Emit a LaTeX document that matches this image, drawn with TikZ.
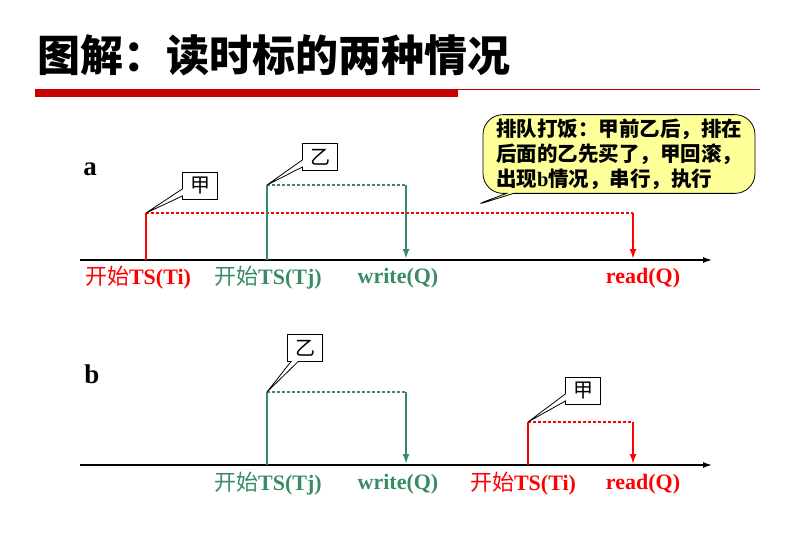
\documentclass[tikz,border=0pt]{standalone}
\usepackage{fontspec}
\setmainfont{Liberation Serif}
\newfontfamily\cjk{Noto Sans CJK SC}
\usetikzlibrary{arrows.meta}
\usetikzlibrary{shapes.callouts}
\definecolor{tgreen}{RGB}{56,140,100}
\definecolor{tred}{RGB}{255,0,0}
\definecolor{bar}{RGB}{200,0,0}
\definecolor{note}{RGB}{255,255,153}
\newcommand{\kaishi}[1]{{\cjk\mdseries 开始}\textbf{#1}}
\begin{document}
\begin{tikzpicture}[x=1pt,y=-1pt,
    axis/.style={-{Latex[length=9pt,width=6pt]}, black, line width=1.3pt},
    life/.style={line width=2pt},
    gap/.style={dashed, line width=1.2pt, dash pattern=on 3pt off 2pt},
    down/.style={line width=2pt, -{Latex[length=10pt,width=7pt]}},
    tag/.style={rectangle callout, draw, fill=white, line width=0.8pt, font=\cjk\fontsize{20}{22}\selectfont,
      minimum width=35pt, minimum height=27pt, inner sep=2pt},
    lbl/.style={font=\fontsize{22}{24}\selectfont, inner sep=1pt}
  ]
  \useasboundingbox (0,0) rectangle (793,533);

  % title
  \node[anchor=west, font=\cjk\bfseries\fontsize{43}{45}\selectfont] (title) at (34,55) {图解：读时标的两种情况};
  \fill[bar] (35,89) rectangle (458,97);
  \draw[bar, line width=0.8pt] (458,89) -- (760,89);

  % a
  \node[font=\bfseries\fontsize{27}{29}\selectfont] (la) at (90,169) {a};
  \coordinate (a0) at (80,260);
  \coordinate (a1) at (712,260);
  \draw[axis] (a0) -- (a1);
  \coordinate (ai) at (146,213);
  \coordinate (aj) at (267,185);
  \coordinate (aw) at (406,185);
  \coordinate (ar) at (633,213);
  \draw[life, tred] (146,260) -- (ai);
  \draw[gap, tred] (ai) -- (ar);
  \draw[down, tred] (ar) -- (633,259);
  \draw[life, tgreen] (267,260) -- (aj);
  \draw[gap, tgreen] (aj) -- (aw);
  \draw[down, tgreen] (aw) -- (406,259);
  \node[tag, callout absolute pointer={(ai)}] (ajia) at (200,186) {甲};
  \node[tag, callout absolute pointer={(aj)}] (ayi) at (320,157) {乙};
  \node[lbl, tred] (ati) at (138,278) {\kaishi{TS(Ti)}};
  \node[lbl, tgreen] (atj) at (268,278) {\kaishi{TS(Tj)}};
  \node[lbl, tgreen] (awq) at (398,278) {\textbf{write(Q)}};
  \node[lbl, tred] (arq) at (643,278) {\textbf{read(Q)}};
  \node[rectangle callout, rounded corners=20pt, draw, fill=note, line width=0.8pt, align=left,
    font=\cjk\bfseries\fontsize{20.5}{25}\selectfont, inner xsep=13pt, inner ysep=4pt,
    callout absolute pointer={(470,207)}]
    (queue) at (619,154) {排队打饭：甲前乙后，排在\\后面的乙先买了，甲回滚，\\出现\textbf{\rmfamily b}情况，串行，执行};

  % b
  \node[font=\bfseries\fontsize{27}{29}\selectfont] (lb) at (92,374) {b};
  \coordinate (b0) at (80,465);
  \coordinate (b1) at (712,465);
  \draw[axis] (b0) -- (b1);
  \coordinate (bj) at (267,392);
  \coordinate (bw) at (406,392);
  \coordinate (bi) at (528,422);
  \coordinate (br) at (633,422);
  \draw[life, tgreen] (267,465) -- (bj);
  \draw[gap, tgreen] (bj) -- (bw);
  \draw[down, tgreen] (bw) -- (406,464);
  \draw[life, tred] (528,465) -- (bi);
  \draw[gap, tred] (bi) -- (br);
  \draw[down, tred] (br) -- (633,464);
  \node[tag, callout absolute pointer={(bj)}] (byi) at (305,348) {乙};
  \node[tag, callout absolute pointer={(bi)}] (bjia) at (583,391) {甲};
  \node[lbl, tgreen] (btj) at (268,484) {\kaishi{TS(Tj)}};
  \node[lbl, tgreen] (bwq) at (398,484) {\textbf{write(Q)}};
  \node[lbl, tred] (bti) at (523,484) {\kaishi{TS(Ti)}};
  \node[lbl, tred] (brq) at (643,484) {\textbf{read(Q)}};
\end{tikzpicture}
\end{document}
